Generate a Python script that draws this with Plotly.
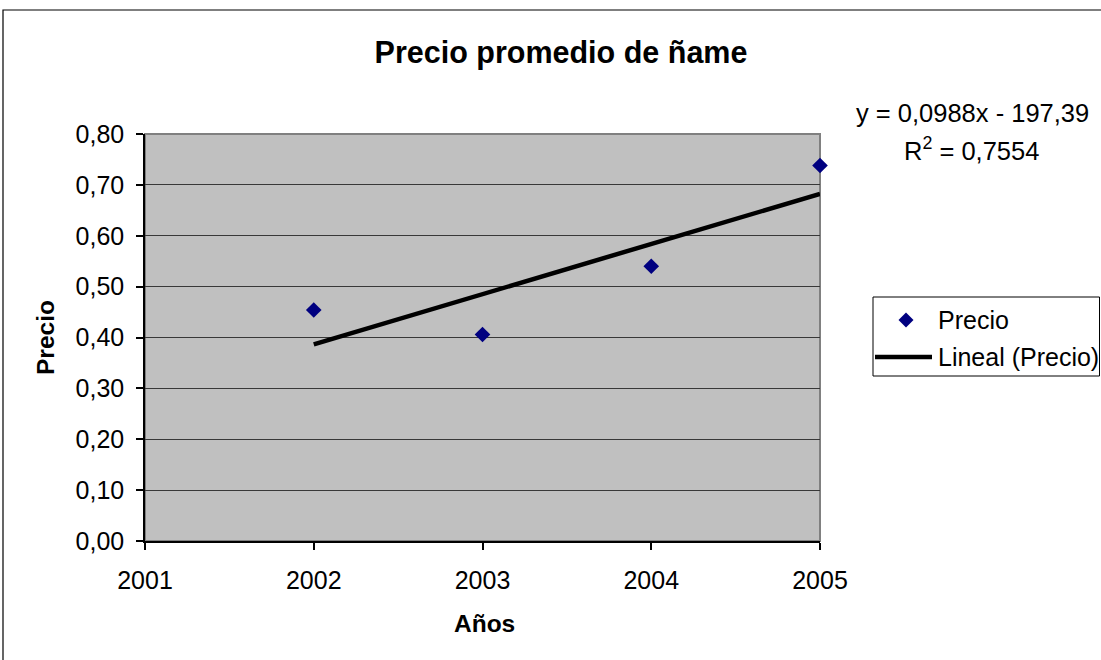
import numpy as np
import plotly.graph_objects as go

# Average yam price per year
years = [2002, 2003, 2004, 2005]
precio = [0.454, 0.406, 0.540, 0.738]

x_ticks = [2001, 2002, 2003, 2004, 2005]
y_ticks = [0.0, 0.1, 0.2, 0.3, 0.4, 0.5, 0.6, 0.7, 0.8]
y_tick_text = ["0,00", "0,10", "0,20", "0,30", "0,40", "0,50", "0,60", "0,70", "0,80"]

eq_text = "y = 0,0988x - 197,39"
r2_text = "R<sup>2</sup> = 0,7554"
series_names = ["Precio", "Lineal (Precio)"]

# Linear trend over the data range
slope, intercept = np.polyfit(years, precio, 1)
trend_x = [years[0], years[-1]]
trend_y = [slope * v + intercept for v in trend_x]

FONT = "Liberation Sans, Arial, sans-serif"
NAVY = "#000080"

fig = go.Figure()
fig.add_trace(go.Scatter(
    x=years, y=precio, mode="markers", name=series_names[0],
    marker=dict(symbol="diamond", size=12, color=NAVY, line=dict(width=0)),
    cliponaxis=False, showlegend=False,
))
fig.add_trace(go.Scatter(
    x=trend_x, y=trend_y, mode="lines", name=series_names[1],
    line=dict(color="black", width=4.5),
    cliponaxis=False, showlegend=False,
))

W, H = 1101, 660
L, R, T, B = 145, 281, 134, 119
pw, ph = W - L - R, H - T - B


def px_x(p):
    return (p - L) / pw


def px_y(p):
    return (H - B - p) / ph


def diamond_path(cx, cy, r):
    pts = [(cx, cy - r), (cx + r, cy), (cx, cy + r), (cx - r, cy)]
    return "M " + " L ".join(f"{px_x(a):.5f},{px_y(b):.5f}" for a, b in pts) + " Z"


shapes = [
    # plot area border
    dict(type="rect", xref="paper", yref="paper", x0=0, y0=0, x1=1, y1=1,
         line=dict(color="#808080", width=2), layer="below"),
    # chart frame
    dict(type="rect", xref="paper", yref="paper",
         x0=px_x(3), y0=px_y(10), x1=px_x(1140), y1=px_y(700),
         line=dict(color="black", width=1.2)),
    # legend box
    dict(type="rect", xref="paper", yref="paper",
         x0=px_x(873), y0=px_y(376), x1=px_x(1099.5), y1=px_y(297),
         line=dict(color="black", width=1), fillcolor="white"),
    # legend key: marker
    dict(type="path", xref="paper", yref="paper", path=diamond_path(906, 320, 7.5),
         fillcolor=NAVY, line=dict(width=0)),
    # legend key: trend line
    dict(type="line", xref="paper", yref="paper",
         x0=px_x(875), y0=px_y(357), x1=px_x(932), y1=px_y(357),
         line=dict(color="black", width=4.5)),
]

annotations = [
    dict(text=eq_text, xref="paper", yref="paper", x=px_x(973), y=px_y(113),
         xanchor="center", yanchor="middle", showarrow=False,
         font=dict(family=FONT, size=25.5, color="black")),
    dict(text=r2_text, xref="paper", yref="paper", x=px_x(971), y=px_y(149),
         xanchor="center", yanchor="middle", showarrow=False,
         font=dict(family=FONT, size=25.5, color="black")),
    dict(text="<b>Precio</b>", xref="paper", yref="paper", x=px_x(45), y=px_y(338),
         xanchor="center", yanchor="middle", textangle=-90, showarrow=False,
         font=dict(family=FONT, size=24.5, color="black")),
    dict(text="<b>Años</b>", xref="paper", yref="paper", x=px_x(484), y=px_y(623),
         xanchor="center", yanchor="middle", showarrow=False,
         font=dict(family=FONT, size=24.5, color="black")),
    dict(text=series_names[0], xref="paper", yref="paper", x=px_x(936), y=px_y(320),
         xanchor="left", yanchor="middle", showarrow=False,
         font=dict(family=FONT, size=25, color="black")),
    dict(text=series_names[1], xref="paper", yref="paper", x=px_x(936), y=px_y(357),
         xanchor="left", yanchor="middle", showarrow=False,
         font=dict(family=FONT, size=25, color="black")),
]

fig.update_layout(
    width=W, height=H,
    margin=dict(l=L, r=R, t=T, b=B, pad=0),
    paper_bgcolor="white",
    plot_bgcolor="#C0C0C0",
    font=dict(family=FONT, size=25, color="black"),
    showlegend=False,
    title=dict(
        text="<b>Precio promedio de ñame</b>",
        x=561 / W, xanchor="center",
        y=1 - 52 / H, yanchor="middle",
        font=dict(family=FONT, size=30.5, color="black"),
    ),
    xaxis=dict(
        range=[2001, 2005], tickmode="array", tickvals=x_ticks,
        ticktext=[str(v) for v in x_ticks],
        showgrid=False, zeroline=False,
        showline=True, linecolor="black", linewidth=1.5,
        ticks="outside", ticklen=7, tickcolor="black", tickwidth=1.5,
        tickfont=dict(family=FONT, size=25, color="black"),
        ticklabelstandoff=9,
    ),
    yaxis=dict(
        range=[0, 0.8], tickmode="array", tickvals=y_ticks, ticktext=y_tick_text,
        showgrid=True, gridcolor="#383838", gridwidth=1.2,
        zeroline=False,
        showline=True, linecolor="black", linewidth=1.5,
        ticks="outside", ticklen=7, tickcolor="black", tickwidth=1.5,
        tickfont=dict(family=FONT, size=25, color="black"),
        ticklabelstandoff=7,
    ),
    shapes=shapes,
    annotations=annotations,
)

fig.write_html("out.html")
